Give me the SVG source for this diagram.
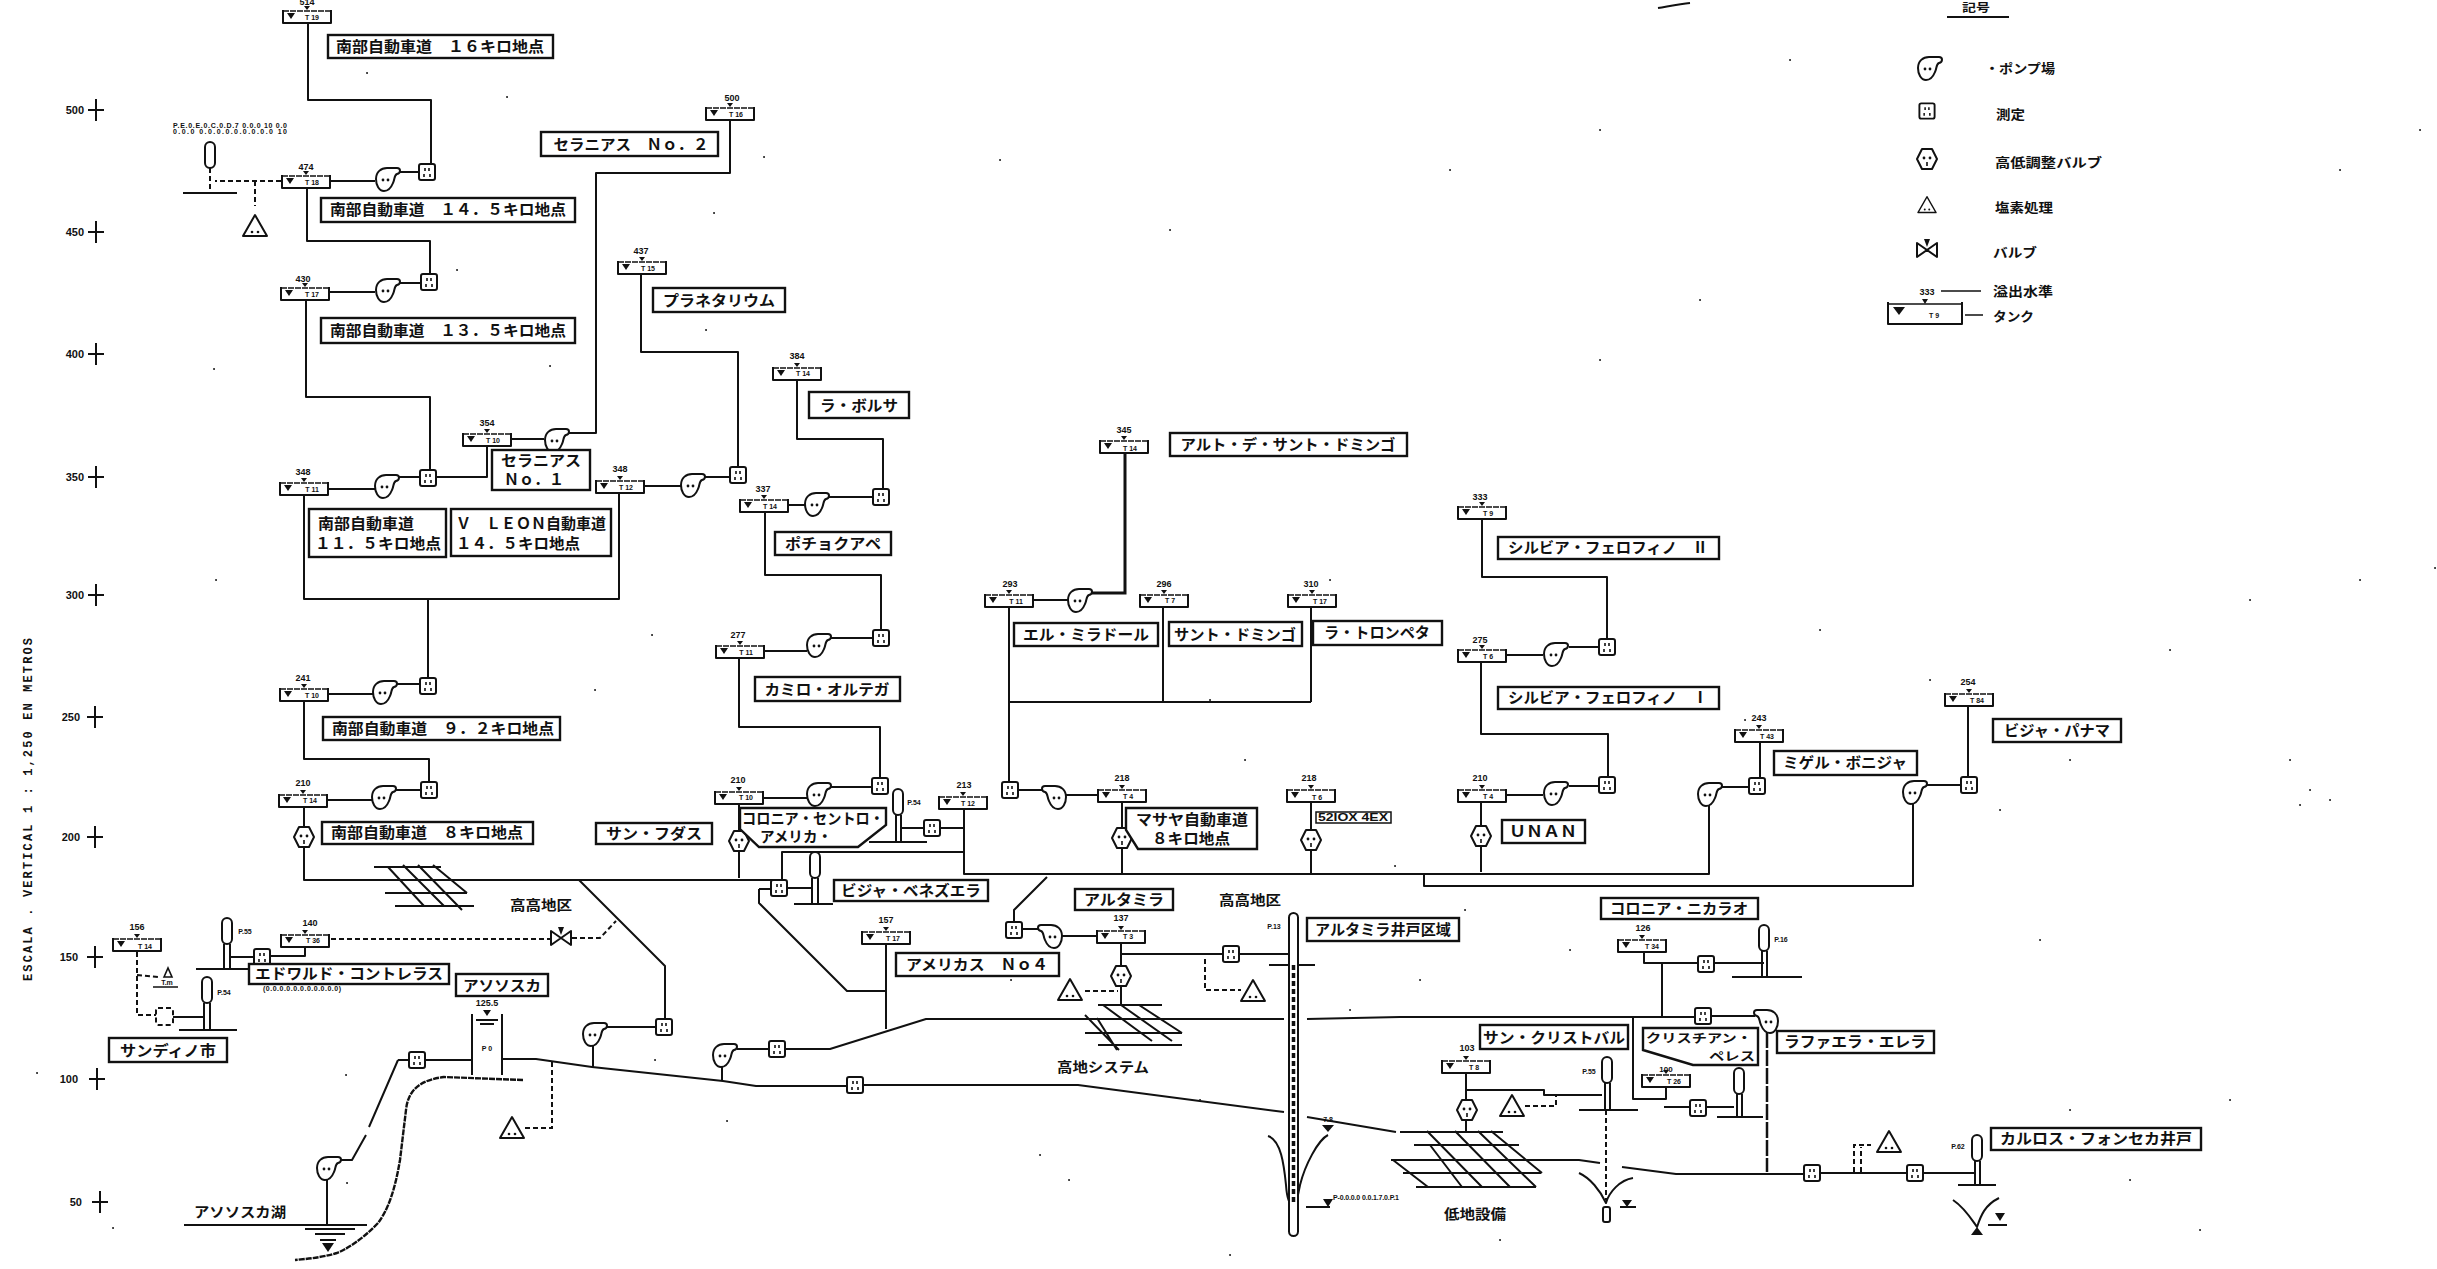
<svg xmlns="http://www.w3.org/2000/svg" width="2437" height="1269" viewBox="0 0 2437 1269">
<style>
text{font-family:"Noto Sans CJK JP","Liberation Sans",sans-serif;font-weight:700;fill:#111}
.l{font-size:15px;text-anchor:middle}
.f{font-size:14px;text-anchor:middle}
.b{fill:#fff;stroke:#111;stroke-width:2.4}
.n{font-family:"Liberation Sans",sans-serif;font-size:9px;text-anchor:middle}
.s{font-family:"Liberation Sans",sans-serif;font-size:7px;text-anchor:middle}
.a{font-family:"Liberation Sans",sans-serif;font-size:11px;text-anchor:end}
.w{fill:none;stroke:#111;stroke-width:2;stroke-linejoin:round}
.d{fill:none;stroke:#111;stroke-width:2;stroke-dasharray:5 3}
.t3{fill:none;stroke:#111;stroke-width:3}
.th{fill:none;stroke:#111;stroke-width:1.6}
.sym{fill:#fff;stroke:#111;stroke-width:2;stroke-linejoin:round}
.k{fill:#111;stroke:none}
.sp{fill:none;stroke:#222;stroke-width:2;stroke-linecap:round}
</style>
<defs>
<g id="tank"><path class="sym" d="M-24 1V14H24V1"/><path class="th" d="M-24 2H24" stroke-dasharray="6 1"/><path class="k" d="M-20 4H-12L-16 10Z"/><path class="k" d="M-3 -3H3L0 1Z"/></g>
<g id="pump"><path class="sym" d="M-12 0C-12 -7 -7 -11 -1 -11L9 -11C13 -11 13 -6 9 -5C6 -4 7 0 5 4C3 9 0 12 -4 12C-9 12 -12 6 -12 0Z"/><circle class="k" cx="-5" cy="1" r="1.4"/><circle class="k" cx="0" cy="1" r="1.4"/></g>
<g id="pumpl"><path class="sym" d="M12 0C12 -7 7 -11 1 -11L-9 -11C-13 -11 -13 -6 -9 -5C-6 -4 -7 0 -5 4C-3 9 0 12 4 12C9 12 12 6 12 0Z"/><circle class="k" cx="5" cy="1" r="1.4"/><circle class="k" cx="0" cy="1" r="1.4"/></g>
<g id="meter"><rect class="sym" x="-8" y="-8" width="16" height="16" rx="2"/><path class="th" d="M-2 -4V-1M2 -4V-1M-3 2V5M3 2V5"/></g>
<g id="hex"><path class="sym" d="M-5 -10H5L10 0L5 10H-5L-10 0Z"/><circle class="k" cx="-3" cy="-1" r="1.4"/><circle class="k" cx="3" cy="-1" r="1.4"/><path class="th" d="M0 3V7"/></g>
<g id="tri"><path class="sym" d="M0 -11L12 10H-12Z"/><circle class="k" cx="-3" cy="6" r="1.3"/><circle class="k" cx="3" cy="6" r="1.3"/></g>
<g id="well"><rect class="sym" x="-5" y="0" width="10" height="26" rx="5"/></g>
<g id="valve"><path class="sym" d="M-10 -7L10 7V-7L-10 7Z"/><path class="k" d="M-3 -11H3L0 -3Z"/></g>
</defs>

<g id="axis">
<path class="w" d="M96 99V121M88 110H104M96 221V243M88 232H104M96 343V365M88 354H104M96 466V488M88 477H104M96 584V606M88 595H104M95 706V728M87 717H103M95 826V848M87 837H103M95 946V968M87 957H103M97 1068V1090M89 1079H105M100 1191V1213M92 1202H108"/>
<text class="a" x="84" y="114">500</text><text class="a" x="84" y="236">450</text><text class="a" x="84" y="358">400</text><text class="a" x="84" y="481">350</text><text class="a" x="84" y="599">300</text><text class="a" x="80" y="721">250</text><text class="a" x="80" y="841">200</text><text class="a" x="78" y="961">150</text><text class="a" x="78" y="1083">100</text><text class="a" x="82" y="1206">50</text>
<text transform="translate(32,981) rotate(-90)" textLength="343" lengthAdjust="spacing" style="font-family:'Liberation Mono',monospace;font-size:12px">ESCALA .  VERTICAL   1 : 1,250  EN  METROS</text>
</g>

<g id="connectors">
<path class="w" d="M308 23V100H431V165M331 181H375M398 172H419M307 188V241H430V277M330 292H375M398 283H421M306 299V397H430V470M329 489H375M399 477H419M436 477H487V445M511 439H544M568 433H596V173H730V119M304 496V599H619V493M428 599V678M645 486H681M705 477H730M641 274V352H738V468M788 505H805M829 497H873M883 489V439H797V378M765 512V575H881V630M765 651H807M831 638H873M739 658V727H880V778M764 798H807M831 787H872M329 694H373M397 684H419M304 701V759H429V782M328 800H372M396 790H421M304 806V827M304 847V880H782V852H964M579 880L665 966V1020M607 1027H656M964 809V874H1709V804M1424 873V886H1913V802M739 803V831M739 851V878M1122 802V828M1122 848V874M1311 803V830M1311 850V874M1481 802V826M1481 846V872M1009 782V607M1009 702H1311M1163 606V702M1311 607V702M1034 600H1068M1098 795H1066M1042 790H1017M1047 877L1014 910V922M1021 929H1039M1062 936H1098M1121 942V966M1121 986V1005M1122 954H1223M1239 954H1289M737 1049H769M784 1049H830L926 1019H1284M1307 1019L1400 1017H1695M1712 1016H1755M1662 1016V963H1698M1644 952V963H1662M1714 963H1764M1633 1017V1099H1666V1087M398 1060H409M425 1060H472M503 1059H536L592 1067L723 1081L756 1086H847M862 1085H1078L1284 1112M1307 1117L1396 1132M1400 1160H1579L1600 1163M1622 1167L1676 1174H1804M1820 1173H1908M1923 1173H1975M398 1060L369 1127M366 1135L352 1160H340M327 1178V1225M593 1044V1067M722 1065V1081M1466 1073V1090H1544V1095H1602M1466 1090V1100M1466 1120V1131M1506 655H1543M1569 647H1599M1506 795H1543M1569 786H1599M1722 787H1749M1927 785H1961M1760 778V742M1968 777V705M1482 519V577H1607V640M1481 662V734H1608V777M759 889V903L847 991H886M886 944V1029M759 889H771M788 888H812M924 828H902M940 828H964V850M1690 1107H1664M1706 1107H1734M305 946V956H270M255 957H230M173 1017H204"/>
<path class="t3" d="M1125 454V593H1092"/>
<path class="w" d="M1767 1032V1172" stroke-dasharray="16 2" style="stroke-width:2.500"/>
<path class="d" d="M281 181H215M255 181V206M210 168V192M331 939H551M572 938H600L616 921M137 952V1015H156M137 975L158 977M552 1062V1128H524M1085 991H1118M1205 959V990H1241M1525 1106H1556V1095M1606 1110V1200M1854 1172V1145H1871M1861 1172V1147"/>
</g>

<g id="terrain">
<path d="M523 1080L444 1077C420 1080 408 1090 406 1110L400 1160C395 1190 388 1210 378 1223C362 1240 345 1250 337 1253C320 1258 305 1259 295 1260" fill="none" stroke="#111" stroke-width="2.400" stroke-dasharray="6 1"/>
<path class="w" d="M184 1225H367M305 1229H355M315 1234H345M320 1240H336"/>
<path class="k" d="M322 1243H334L328 1252Z"/>
<path class="w" d="M183 193H237M196 969H250M179 1030H237M869 842H927M794 904H833M1269 965H1315M1579 1110H1638M1717 1117H1763M1732 977H1802M1958 1185H1996"/>
<path class="w" d="M1268 1136C1281 1140 1284 1165 1286 1185C1287 1200 1290 1205 1293 1206C1297 1203 1298 1195 1300 1185C1305 1165 1318 1140 1328 1135"/>
<path class="w" d="M1579 1173C1590 1178 1600 1190 1606 1203C1609 1192 1620 1180 1633 1178"/>
<path class="w" d="M1953 1200C1965 1208 1972 1220 1977 1227C1981 1215 1985 1205 1999 1198"/>
<path class="k" d="M1322 1125H1334L1328 1132ZM1323 1199H1333L1328 1207ZM1622 1200H1632L1627 1207ZM1995 1213H2005L2000 1221ZM1971 1235L1977 1227L1983 1235Z"/>
<path class="w" d="M1306 1207H1330M1620 1207H1636M1988 1225H2007"/>
<text class="s" x="1366" y="1200" textLength="66">P-0.0.0.0 0.0.1.7.0.P.1</text>
<text class="s" x="1328" y="1122">7.8</text>
</g>

<g id="grid-1"><path class="w" d="M374 867H441M385 893H467M395 906H474M388 867L424 906M403 865L444 906M418 865L462 910M433 865L467 893"/></g>
<g id="grid-2"><path class="w" d="M1098 1005H1162M1085 1033H1182M1098 1045H1182M1097 1018L1117 1050M1103 1005L1152 1041M1121 1005L1172 1041M1139 1005L1182 1033M1085 1015L1119 1050"/></g>
<g id="grid-3"><path class="w" d="M1400 1132H1503M1414 1145H1519M1391 1160H1579M1403 1173H1541M1416 1187H1536M1427 1131L1482 1187M1455 1131L1510 1187M1478 1131L1536 1187M1491 1131L1542 1173M1393 1160L1428 1187M1430 1145L1462 1187"/></g>

<g id="n-514"><use href="#tank" x="307" y="9"/><text class="n" x="307" y="5">514</text><text class="s" x="312" y="20">T 19</text></g>
<g id="n-474"><use href="#tank" x="306" y="174"/><text class="n" x="306" y="170">474</text><text class="s" x="312" y="185">T 18</text></g>
<g id="n-430"><use href="#tank" x="305" y="286"/><text class="n" x="303" y="282">430</text><text class="s" x="312" y="297">T 17</text></g>
<g id="n-500"><use href="#tank" x="730" y="106"/><text class="n" x="732" y="101">500</text><text class="s" x="736" y="117">T 16</text></g>
<g id="n-437"><use href="#tank" x="642" y="260"/><text class="n" x="641" y="254">437</text><text class="s" x="648" y="271">T 15</text></g>
<g id="n-384"><use href="#tank" x="797" y="366"/><text class="n" x="797" y="359">384</text><text class="s" x="803" y="376">T 14</text></g>
<g id="n-354"><use href="#tank" x="487" y="432"/><text class="n" x="487" y="426">354</text><text class="s" x="493" y="443">T 10</text></g>
<g id="n-348a"><use href="#tank" x="304" y="481"/><text class="n" x="303" y="475">348</text><text class="s" x="312" y="492">T 11</text></g>
<g id="n-348b"><use href="#tank" x="620" y="479"/><text class="n" x="620" y="472">348</text><text class="s" x="626" y="490">T 12</text></g>
<g id="n-337"><use href="#tank" x="764" y="498"/><text class="n" x="763" y="492">337</text><text class="s" x="770" y="509">T 14</text></g>
<g id="n-277"><use href="#tank" x="740" y="644"/><text class="n" x="738" y="638">277</text><text class="s" x="746" y="655">T 11</text></g>
<g id="n-241"><use href="#tank" x="304" y="687"/><text class="n" x="303" y="681">241</text><text class="s" x="312" y="698">T 10</text></g>
<g id="n-210a"><use href="#tank" x="303" y="793"/><text class="n" x="303" y="786">210</text><text class="s" x="310" y="803">T 14</text></g>
<g id="n-210b"><use href="#tank" x="739" y="790"/><text class="n" x="738" y="783">210</text><text class="s" x="746" y="800">T 10</text></g>
<g id="n-213"><use href="#tank" x="963" y="795"/><text class="n" x="964" y="788">213</text><text class="s" x="968" y="806">T 12</text></g>
<g id="n-218a"><use href="#tank" x="1122" y="788"/><text class="n" x="1122" y="781">218</text><text class="s" x="1128" y="799">T 4</text></g>
<g id="n-218b"><use href="#tank" x="1311" y="788"/><text class="n" x="1309" y="781">218</text><text class="s" x="1317" y="800">T 6</text></g>
<g id="n-210c"><use href="#tank" x="1482" y="788"/><text class="n" x="1480" y="781">210</text><text class="s" x="1488" y="799">T 4</text></g>
<g id="n-293"><use href="#tank" x="1009" y="593"/><text class="n" x="1010" y="587">293</text><text class="s" x="1016" y="604">T 11</text></g>
<g id="n-296"><use href="#tank" x="1164" y="593"/><text class="n" x="1164" y="587">296</text><text class="s" x="1170" y="603">T 7</text></g>
<g id="n-310"><use href="#tank" x="1312" y="593"/><text class="n" x="1311" y="587">310</text><text class="s" x="1320" y="604">T 17</text></g>
<g id="n-345"><use href="#tank" x="1124" y="439"/><text class="n" x="1124" y="433">345</text><text class="s" x="1130" y="451">T 14</text></g>
<g id="n-333"><use href="#tank" x="1482" y="505"/><text class="n" x="1480" y="500">333</text><text class="s" x="1488" y="516">T 9</text></g>
<g id="n-275"><use href="#tank" x="1482" y="648"/><text class="n" x="1480" y="643">275</text><text class="s" x="1488" y="659">T 6</text></g>
<g id="n-243"><use href="#tank" x="1759" y="728"/><text class="n" x="1759" y="721">243</text><text class="s" x="1767" y="739">T 43</text></g>
<g id="n-254"><use href="#tank" x="1969" y="692"/><text class="n" x="1968" y="685">254</text><text class="s" x="1977" y="703">T 84</text></g>
<g id="n-157"><use href="#tank" x="886" y="930"/><text class="n" x="886" y="923">157</text><text class="s" x="893" y="941">T 17</text></g>
<g id="n-137"><use href="#tank" x="1121" y="929"/><text class="n" x="1121" y="921">137</text><text class="s" x="1128" y="939">T 3</text></g>
<g id="n-156"><use href="#tank" x="137" y="937"/><text class="n" x="137" y="930">156</text><text class="s" x="145" y="949">T 14</text></g>
<g id="n-140"><use href="#tank" x="305" y="933"/><text class="n" x="310" y="926">140</text><text class="s" x="313" y="943">T 36</text></g>
<g id="n-126"><use href="#tank" x="1642" y="938"/><text class="n" x="1643" y="931">126</text><text class="s" x="1652" y="949">T 34</text></g>
<g id="n-103"><use href="#tank" x="1466" y="1059"/><text class="n" x="1467" y="1051">103</text><text class="s" x="1474" y="1070">T 8</text></g>
<g id="n-100"><use href="#tank" x="1666" y="1073"/><text class="n" x="1666" y="1072" style="font-size:8px">100</text><text class="s" x="1674" y="1084">T 26</text></g>

<g id="pumps">
<use href="#pump" x="388" y="179"/><use href="#pump" x="388" y="290"/><use href="#pump" x="387" y="486"/><use href="#pump" x="557" y="440"/><use href="#pump" x="693" y="485"/><use href="#pump" x="817" y="504"/><use href="#pump" x="819" y="645"/><use href="#pump" x="819" y="794"/><use href="#pump" x="385" y="692"/><use href="#pump" x="384" y="797"/><use href="#pump" x="595" y="1034"/><use href="#pump" x="725" y="1055"/><use href="#pump" x="329" y="1168"/><use href="#pump" x="1080" y="600"/><use href="#pumpl" x="1054" y="797"/><use href="#pumpl" x="1050" y="936"/><use href="#pump" x="1556" y="654"/><use href="#pump" x="1556" y="793"/><use href="#pump" x="1710" y="794"/><use href="#pump" x="1915" y="792"/><use href="#pumpl" x="1766" y="1021"/>
</g>
<g id="meters">
<use href="#meter" x="427" y="172"/><use href="#meter" x="429" y="282"/><use href="#meter" x="428" y="478"/><use href="#meter" x="738" y="475"/><use href="#meter" x="881" y="497"/><use href="#meter" x="881" y="638"/><use href="#meter" x="880" y="786"/><use href="#meter" x="428" y="686"/><use href="#meter" x="429" y="790"/><use href="#meter" x="1010" y="790"/><use href="#meter" x="1014" y="930"/><use href="#meter" x="1231" y="954"/><use href="#meter" x="777" y="1049"/><use href="#meter" x="855" y="1085"/><use href="#meter" x="664" y="1027"/><use href="#meter" x="417" y="1060"/><use href="#meter" x="1607" y="647"/><use href="#meter" x="1607" y="785"/><use href="#meter" x="1757" y="786"/><use href="#meter" x="1969" y="785"/><use href="#meter" x="779" y="888"/><use href="#meter" x="932" y="828"/><use href="#meter" x="262" y="957"/><use href="#meter" x="1706" y="964"/><use href="#meter" x="1703" y="1016"/><use href="#meter" x="1698" y="1108"/><use href="#meter" x="1812" y="1173"/><use href="#meter" x="1915" y="1173"/>
<rect x="156" y="1008" width="17" height="17" rx="2" fill="#fff" stroke="#111" stroke-width="2" stroke-dasharray="5 3"/>
</g>
<g id="valves">
<use href="#hex" x="304" y="837"/><use href="#hex" x="739" y="841"/><use href="#hex" x="1122" y="838"/><use href="#hex" x="1311" y="840"/><use href="#hex" x="1481" y="836"/><use href="#hex" x="1121" y="976"/><use href="#hex" x="1467" y="1110"/>
<use href="#valve" x="561" y="938"/>
</g>
<g id="chlorine">
<use href="#tri" x="255" y="226"/><use href="#tri" x="512" y="1128"/><use href="#tri" x="1070" y="990"/><use href="#tri" x="1253" y="991"/><use href="#tri" x="1512" y="1106"/><use href="#tri" x="1889" y="1142"/>
<path class="th" d="M164 977L168 968L172 977ZM153 987H178"/>
<text class="s" x="167" y="985">T.m</text>
</g>
<g id="wells">
<use href="#well" x="210" y="142"/><use href="#well" x="227" y="918"/><path class="w" d="M224 944V968M230 944V968"/><text class="s" x="245" y="934">P.55</text>
<use href="#well" x="207" y="977"/><path class="w" d="M204 1003V1029M210 1003V1029"/><text class="s" x="224" y="995">P.54</text>
<use href="#well" x="898" y="789"/><path class="w" d="M896 815V841M901 815V841"/><text class="s" x="914" y="805">P.54</text>
<use href="#well" x="815" y="852"/><path class="w" d="M812 878V903M818 878V903"/>
<use href="#well" x="1764" y="925"/><path class="w" d="M1762 951V976M1767 951V976"/><text class="s" x="1781" y="942">P.16</text>
<use href="#well" x="1607" y="1057"/><path class="w" d="M1605 1083V1110M1610 1083V1110"/><text class="s" x="1589" y="1074">P.55</text>
<use href="#well" x="1739" y="1068"/><path class="w" d="M1737 1094V1117M1742 1094V1117"/>
<use href="#well" x="1977" y="1135"/><path class="w" d="M1975 1161V1184M1980 1161V1184"/><text class="s" x="1958" y="1149">P.62</text>
<rect x="1603" y="1207" width="7" height="15" rx="2" fill="#fff" stroke="#111" stroke-width="2"/>
<rect x="1289" y="913" width="9" height="323" rx="4.5" fill="#fff" stroke="#111" stroke-width="2"/>
<path d="M1293.500 965V1205" stroke="#111" stroke-width="3.500" stroke-dasharray="5 3" fill="none"/>
<text class="s" x="1274" y="929">P.13</text>
</g>
<g id="tower">
<path class="w" d="M472 1014V1075M502 1014V1075M476 1020H498M480 1024H494"/>
<path class="k" d="M483 1010H491L487 1016Z"/>
<text class="n" x="487" y="1006">125.5</text><text class="s" x="487" y="1051">P 0</text>
</g>

<g id="lb-16"><rect class="b" x="328" y="35" width="225" height="23"/><text class="l" x="440" y="52" textLength="208" lengthAdjust="spacingAndGlyphs">南部自動車道　１６キロ地点</text></g>
<g id="lb-145"><rect class="b" x="321" y="198" width="254" height="24"/><text class="l" x="448" y="215" textLength="236" lengthAdjust="spacingAndGlyphs">南部自動車道　１４．５キロ地点</text></g>
<g id="lb-135"><rect class="b" x="321" y="318" width="254" height="25"/><text class="l" x="448" y="336" textLength="236" lengthAdjust="spacingAndGlyphs">南部自動車道　１３．５キロ地点</text></g>
<g id="lb-no2"><rect class="b" x="541" y="132" width="177" height="24"/><text class="l" x="631" y="150" textLength="155" lengthAdjust="spacingAndGlyphs">セラニアス　Ｎｏ．２</text></g>
<g id="lb-plan"><rect class="b" x="653" y="288" width="132" height="24"/><text class="l" x="719" y="306" textLength="112" lengthAdjust="spacingAndGlyphs">プラネタリウム</text></g>
<g id="lb-bolsa"><rect class="b" x="809" y="392" width="100" height="26"/><text class="l" x="859" y="411" textLength="78" lengthAdjust="spacingAndGlyphs">ラ・ボルサ</text></g>
<g id="lb-no1"><rect class="b" x="492" y="450" width="98" height="40"/><text class="l" x="541" y="466" textLength="80" lengthAdjust="spacingAndGlyphs">セラニアス</text><text class="l" x="534" y="485" textLength="60" lengthAdjust="spacingAndGlyphs">Ｎｏ．１</text></g>
<g id="lb-115"><rect class="b" x="309" y="509" width="137" height="48"/><text class="l" x="366" y="529" textLength="96" lengthAdjust="spacingAndGlyphs">南部自動車道</text><text class="l" x="378" y="549" textLength="126" lengthAdjust="spacingAndGlyphs">１１．５キロ地点</text></g>
<g id="lb-leon"><rect class="b" x="451" y="509" width="160" height="47"/><text class="l" x="531" y="529" textLength="150" lengthAdjust="spacingAndGlyphs">Ｖ　ＬＥＯＮ自動車道</text><text class="l" x="518" y="549" textLength="124" lengthAdjust="spacingAndGlyphs">１４．５キロ地点</text></g>
<g id="lb-92"><rect class="b" x="323" y="717" width="237" height="23"/><text class="l" x="443" y="734" textLength="222" lengthAdjust="spacingAndGlyphs">南部自動車道　９．２キロ地点</text></g>
<g id="lb-8"><rect class="b" x="322" y="822" width="211" height="22"/><text class="l" x="427" y="838" textLength="192" lengthAdjust="spacingAndGlyphs">南部自動車道　８キロ地点</text></g>
<g id="lb-fudas"><rect class="b" x="596" y="823" width="116" height="21"/><text class="l" x="654" y="839" textLength="96" lengthAdjust="spacingAndGlyphs">サン・フダス</text></g>
<g id="lb-poch"><rect class="b" x="775" y="532" width="116" height="23"/><text class="l" x="833" y="549" textLength="96" lengthAdjust="spacingAndGlyphs">ポチョクアペ</text></g>
<g id="lb-camilo"><rect class="b" x="755" y="677" width="145" height="24"/><text class="l" x="827" y="695" textLength="125" lengthAdjust="spacingAndGlyphs">カミロ・オルテガ</text></g>
<g id="lb-centro"><path class="b" d="M740 808H886V825L858 847H759L740 829Z"/><text class="l" x="813" y="824" textLength="142" lengthAdjust="spacingAndGlyphs">コロニア・セントロ・</text><text class="l" x="796" y="842" textLength="72" lengthAdjust="spacingAndGlyphs">アメリカ・</text></g>
<g id="lb-alto"><rect class="b" x="1170" y="433" width="237" height="23"/><text class="l" x="1288" y="450" textLength="215" lengthAdjust="spacingAndGlyphs">アルト・デ・サント・ドミンゴ</text></g>
<g id="lb-mirador"><rect class="b" x="1014" y="623" width="144" height="23"/><text class="l" x="1086" y="640" textLength="126" lengthAdjust="spacingAndGlyphs">エル・ミラドール</text></g>
<g id="lb-santo"><rect class="b" x="1169" y="622" width="133" height="24"/><text class="l" x="1235" y="640" textLength="122" lengthAdjust="spacingAndGlyphs">サント・ドミンゴ</text></g>
<g id="lb-trompeta"><rect class="b" x="1313" y="621" width="129" height="24"/><text class="l" x="1377" y="638" textLength="106" lengthAdjust="spacingAndGlyphs">ラ・トロンペタ</text></g>
<g id="lb-masaya"><path class="b" d="M1126 808H1257V849H1138L1126 830Z"/><text class="l" x="1192" y="825" textLength="112" lengthAdjust="spacingAndGlyphs">マサヤ自動車道</text><text class="l" x="1191" y="844" textLength="78" lengthAdjust="spacingAndGlyphs">８キロ地点</text></g>
<g id="lb-52"><rect x="1316" y="812" width="75" height="11" fill="#fff" stroke="#111" stroke-width="1.500"/><text class="s" x="1353" y="821" textLength="70" lengthAdjust="spacingAndGlyphs" style="font-size:10px">52IOX 4EX</text></g>
<g id="lb-silvia2"><rect class="b" x="1498" y="537" width="221" height="22"/><text class="l" x="1608" y="553" textLength="200" lengthAdjust="spacingAndGlyphs">シルビア・フェロフィノ　Ⅱ</text></g>
<g id="lb-silvia1"><rect class="b" x="1498" y="687" width="221" height="22"/><text class="l" x="1608" y="703" textLength="200" lengthAdjust="spacingAndGlyphs">シルビア・フェロフィノ　Ⅰ</text></g>
<g id="lb-unan"><rect class="b" x="1502" y="820" width="83" height="23"/><text class="l" x="1543" y="837" textLength="68" lengthAdjust="spacingAndGlyphs">ＵＮＡＮ</text></g>
<g id="lb-miguel"><rect class="b" x="1774" y="751" width="143" height="24"/><text class="l" x="1845" y="768" textLength="124" lengthAdjust="spacingAndGlyphs">ミゲル・ボニジャ</text></g>
<g id="lb-panama"><rect class="b" x="1993" y="719" width="128" height="23"/><text class="l" x="2057" y="736" textLength="106" lengthAdjust="spacingAndGlyphs">ビジャ・パナマ</text></g>
<g id="lb-venez"><rect class="b" x="834" y="880" width="154" height="21"/><text class="l" x="911" y="896" textLength="140" lengthAdjust="spacingAndGlyphs">ビジャ・ベネズエラ</text></g>
<g id="lb-altamira"><rect class="b" x="1075" y="889" width="98" height="21"/><text class="l" x="1124" y="905" textLength="80" lengthAdjust="spacingAndGlyphs">アルタミラ</text></g>
<g id="lb-altwell"><rect class="b" x="1307" y="918" width="152" height="23"/><text class="l" x="1383" y="935" textLength="136" lengthAdjust="spacingAndGlyphs">アルタミラ井戸区域</text></g>
<g id="lb-am4"><rect class="b" x="896" y="953" width="163" height="23"/><text class="l" x="977" y="970" textLength="142" lengthAdjust="spacingAndGlyphs">アメリカス　Ｎｏ４</text></g>
<g id="lb-nicarao"><rect class="b" x="1601" y="898" width="157" height="21"/><text class="l" x="1679" y="914" textLength="138" lengthAdjust="spacingAndGlyphs">コロニア・ニカラオ</text></g>
<g id="lb-cristobal"><rect class="b" x="1480" y="1025" width="148" height="24"/><text class="l" x="1554" y="1043" textLength="142" lengthAdjust="spacingAndGlyphs">サン・クリストバル</text></g>
<g id="lb-cristian"><path class="b" d="M1643 1028H1758V1065H1693L1643 1050Z"/><text class="l" x="1699" y="1043" textLength="106" lengthAdjust="spacingAndGlyphs" style="font-size:12px">クリスチアン・</text><text class="l" x="1732" y="1061" textLength="46" lengthAdjust="spacingAndGlyphs" style="font-size:12px">ペレス</text></g>
<g id="lb-rafael"><rect class="b" x="1777" y="1031" width="157" height="22"/><text class="l" x="1855" y="1047" textLength="142" lengthAdjust="spacingAndGlyphs">ラファエラ・エレラ</text></g>
<g id="lb-carlos"><rect class="b" x="1991" y="1128" width="210" height="22"/><text class="l" x="2096" y="1144" textLength="192" lengthAdjust="spacingAndGlyphs">カルロス・フォンセカ井戸</text></g>
<g id="lb-edwardo"><rect class="b" x="249" y="964" width="200" height="20"/><text class="l" x="349" y="979" textLength="188" lengthAdjust="spacingAndGlyphs">エドワルド・コントレラス</text></g>
<g id="lb-asosoca"><rect class="b" x="456" y="974" width="92" height="22"/><text class="l" x="502" y="991" textLength="78" lengthAdjust="spacingAndGlyphs">アソソスカ</text></g>
<g id="lb-sandino"><rect class="b" x="109" y="1038" width="118" height="24"/><text class="l" x="168" y="1056" textLength="96" lengthAdjust="spacingAndGlyphs">サンディノ市</text></g>

<g id="free-text">
<text class="f" x="541" y="910" textLength="62" lengthAdjust="spacingAndGlyphs">高高地区</text>
<text class="f" x="1250" y="905" textLength="62" lengthAdjust="spacingAndGlyphs">高高地区</text>
<text class="f" x="1103" y="1072" textLength="92" lengthAdjust="spacingAndGlyphs">高地システム</text>
<text class="f" x="1475" y="1219" textLength="62" lengthAdjust="spacingAndGlyphs">低地設備</text>
<text class="f" x="240" y="1217" textLength="92" lengthAdjust="spacingAndGlyphs">アソソスカ湖</text>
<text class="s" x="230" y="128" textLength="114">P.E.0.E.0.C.0.D.7 0.0.0 10 0.0</text>
<text class="s" x="230" y="134" textLength="114">0.0.0 0.0.0.0.0.0.0.0.0 10</text>
<text class="s" x="302" y="991" textLength="78">(0.0.0.0.0.0.0.0.0.0.0)</text>
</g>

<g id="legend">
<text class="f" x="1976" y="12" style="font-size:11px" textLength="28" lengthAdjust="spacingAndGlyphs">記号</text>
<path class="w" d="M1947 17H2009"/>
<use href="#pump" x="1930" y="68"/><text x="1985" y="73" style="font-size:13px" textLength="70" lengthAdjust="spacingAndGlyphs">・ポンプ場</text>
<use href="#meter" transform="translate(1927,111) scale(.95)"/><text x="1996" y="119" style="font-size:13px" textLength="29" lengthAdjust="spacingAndGlyphs">測定</text>
<use href="#hex" x="1927" y="159"/><text x="1995" y="167" style="font-size:13px" textLength="107" lengthAdjust="spacingAndGlyphs">高低調整バルブ</text>
<use href="#tri" transform="translate(1927,205) scale(.75)"/><text x="1995" y="212" style="font-size:13px" textLength="58" lengthAdjust="spacingAndGlyphs">塩素処理</text>
<use href="#valve" x="1927" y="250"/><text x="1993" y="257" style="font-size:13px" textLength="44" lengthAdjust="spacingAndGlyphs">バルブ</text>
<text class="n" x="1927" y="295">333</text><path class="th" d="M1941 291H1981M1965 315H1983"/><text x="1993" y="296" style="font-size:13px" textLength="60" lengthAdjust="spacingAndGlyphs">溢出水準</text>
<path class="sym" d="M1888 302V324H1962V302"/><path class="th" d="M1888 304H1962"/><path class="k" d="M1893 307H1905L1899 315ZM1922 299H1928L1925 304Z"/><text class="s" x="1934" y="318">T 9</text>
<text x="1993" y="321" style="font-size:13px" textLength="41" lengthAdjust="spacingAndGlyphs">タンク</text>
<path class="w" d="M1658 8C1670 6 1680 4 1690 3"/>
</g>

<g id="specks"><path class="sp" d="M367 73h.1M507 97h.1M714 213h.1M764 157h.1M457 270h.1M550 366h.1M214 369h.1M706 330h.1M216 580h.1M652 635h.1M595 690h.1M346 1075h.1M37 1073h.1M347 1183h.1M113 1228h.1M727 1121h.1M655 1060h.1M1011 980h.1M1069 1180h.1M1040 1155h.1M1200 1100h.1M1350 1010h.1M1420 980h.1M1395 866h.1M1245 760h.1M1330 580h.1M1210 700h.1M1465 910h.1M1570 950h.1M1745 720h.1M1820 630h.1M1930 680h.1M2070 760h.1M2000 810h.1M2070 1110h.1M2230 1100h.1M2290 760h.1M2310 790h.1M2300 805h.1M2330 800h.1M2040 940h.1M2130 1180h.1M2170 650h.1M2250 600h.1M2360 580h.1M2435 568h.1M1450 170h.1M1600 130h.1M1700 300h.1M2340 170h.1M2420 130h.1M1600 360h.1M1170 230h.1M1000 160h.1M1790 60h.1M2200 1230h.1M1500 1240h.1M1230 1255h.1"/></g>
</svg>
